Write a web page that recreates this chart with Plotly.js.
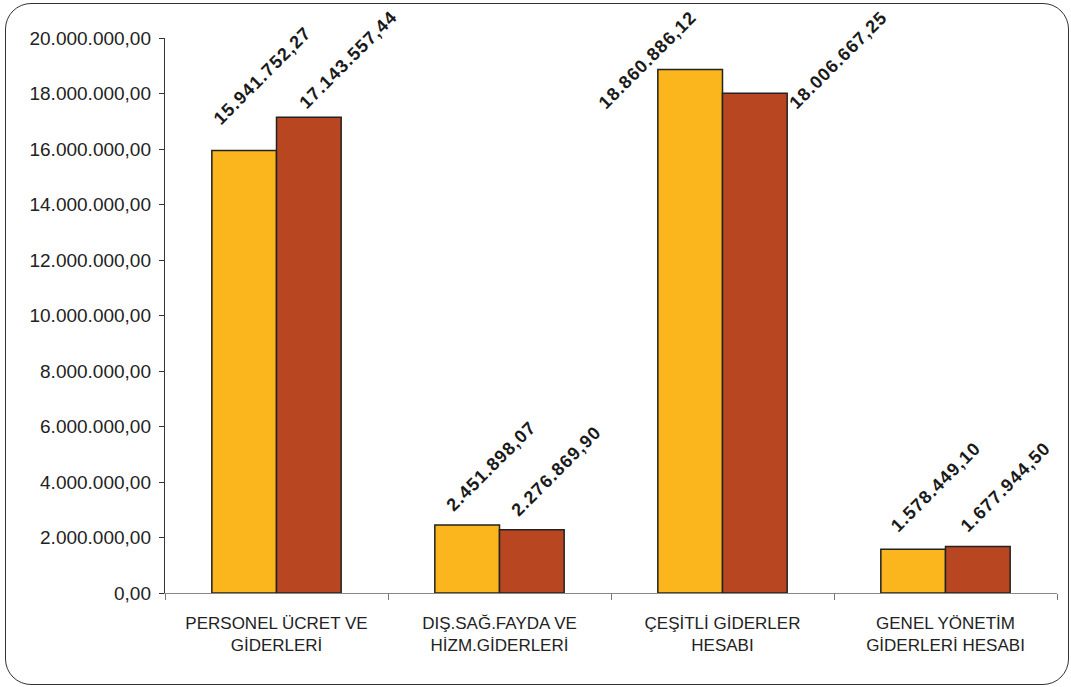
<!DOCTYPE html>
<html><head><meta charset="utf-8">
<script src="https://cdn.plot.ly/plotly-3.0.1.min.js"></script>
<style>
html,body{margin:0;padding:0;background:#fff;}
#wrap{position:relative;width:1071px;height:687px;}
#chart{width:1071px;height:687px;}
#frame{position:absolute;left:5px;top:3px;width:1064px;height:682px;box-sizing:border-box;border:1.5px solid #333;border-radius:26px;pointer-events:none;}
#chart .annotation-text{letter-spacing:1.1px;}
</style></head><body>
<div id="wrap"><div id="chart"></div><div id="frame"></div></div>
<script>
// ---- data ----
const categories = ["PERSONEL ÜCRET VE<br>GİDERLERİ", "DIŞ.SAĞ.FAYDA VE<br>HİZM.GİDERLERİ", "ÇEŞİTLİ GİDERLER<br>HESABI", "GENEL YÖNETİM<br>GİDERLERİ HESABI"];
const series1 = [15941752.27, 2451898.07, 18860886.12, 1578449.10];
const series2 = [17143557.44, 2276869.90, 18006667.25, 1677944.50];
const yTickValues = [0, 2000000, 4000000, 6000000, 8000000, 10000000, 12000000, 14000000, 16000000, 18000000, 20000000];

// ---- label placement (pixel offsets from group centre / bar top) ----
const labelOffsets1 = [[-59.5, -27.6], [-49.5, -15], [-120, 37.4], [-51.5, -19]];
const labelOffsets2 = [[26.5, -10], [15.5, -15], [71, 14], [18.5, -16]];

function fmtTR(v) {
  const parts = v.toFixed(2).split('.');
  const intPart = parts[0].replace(/\B(?=(\d{3})+(?!\d))/g, '.');
  return intPart + ',' + parts[1];
}

const barLine = {color: '#222', width: 1.5};
const traces = [
  {type: 'bar', x: categories, y: series1, marker: {color: '#FBB61E', line: barLine}, hoverinfo: 'none'},
  {type: 'bar', x: categories, y: series2, marker: {color: '#B84621', line: barLine}, hoverinfo: 'none'}
];

const annotations = [];
function addLabels(vals, offs) {
  vals.forEach((v, i) => {
    annotations.push({
      x: categories[i], y: v, xref: 'x', yref: 'y',
      text: fmtTR(v), showarrow: false, textangle: -45,
      xanchor: 'left', yanchor: 'bottom',
      xshift: offs[i][0] - 5.5, yshift: -offs[i][1] - 3.5,
      font: {family: 'Liberation Sans, Arial, sans-serif', size: 18, color: '#1a1a1a', weight: 'bold'}
    });
  });
}
addLabels(series1, labelOffsets1);
addLabels(series2, labelOffsets2);

const layout = {
  width: 1071, height: 687,
  margin: {l: 165, r: 14, t: 38, b: 94},
  paper_bgcolor: '#fff', plot_bgcolor: '#fff',
  separators: ',.',
  showlegend: false,
  barmode: 'group', bargap: 0.42, bargroupgap: 0,
  font: {family: 'Liberation Sans, Arial, sans-serif', color: '#222'},
  xaxis: {
    type: 'category', tickson: 'boundaries', ticks: 'outside', ticklen: 6, tickcolor: '#777',
    showline: true, linecolor: '#888', linewidth: 1.2, showgrid: false, zeroline: false,
    tickfont: {size: 17, color: '#222'}, automargin: false, ticklabelstandoff: 14
  },
  yaxis: {
    range: [0, 20000000], tickvals: yTickValues, tickformat: ',.2f',
    ticks: 'outside', ticklen: 5, tickcolor: '#333',
    showline: true, linecolor: '#333', linewidth: 1.2, showgrid: false, zeroline: false,
    tickfont: {size: 19, color: '#222'}, automargin: false, ticklabelstandoff: 4
  },
  annotations: annotations
};

Plotly.newPlot('chart', traces, layout, {displayModeBar: false, staticPlot: true});
</script>
</body></html>
